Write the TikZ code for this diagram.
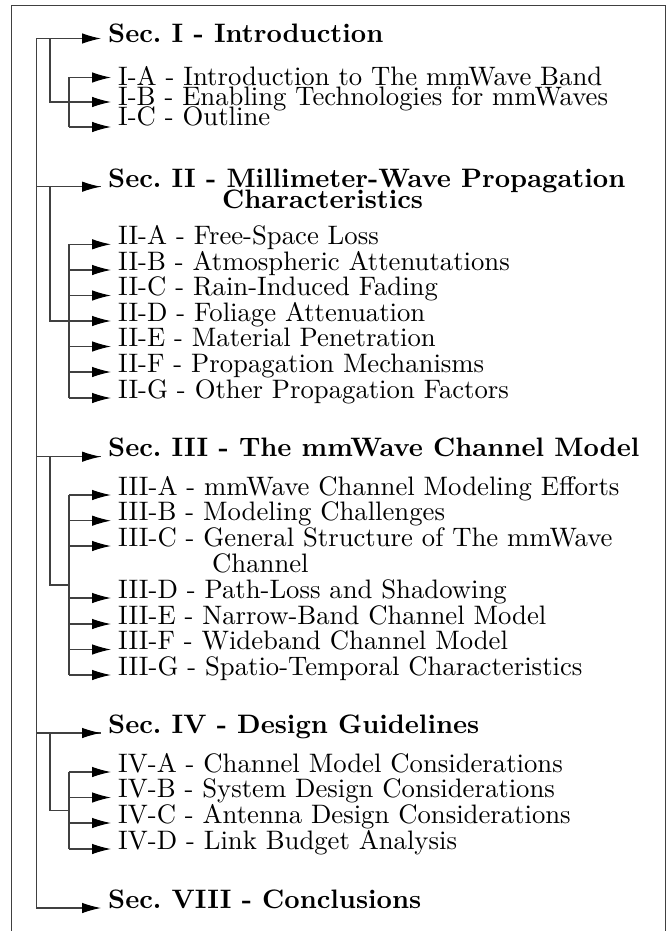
\documentclass[tikz,border=0pt]{standalone}
\usepackage{fontspec}
\setmainfont{lmroman10-regular.otf}[BoldFont=lmroman10-bold.otf,ItalicFont=lmroman10-italic.otf]
\usetikzlibrary{arrows.meta}
\begin{document}
\begin{tikzpicture}[x=1pt,y=-1pt,
  wire/.style={draw=black!75,line width=1.1pt},
  arr/.style={wire,-{Latex[length=19pt,width=10.5pt,black]}},
  sectxt/.style={anchor=base west,inner sep=0pt,font=\fontsize{26.7}{26.7}\selectfont\bfseries},
  subtxt/.style={anchor=base west,inner sep=0pt,font=\fontsize{26.7}{26.7}\selectfont}]
\useasboundingbox (0,0) rectangle (668,931);
\draw[black!75,line width=1pt] (11,6) rectangle (665,960);
% ---------- coordinates ----------
\coordinate (root) at (36.5,38.5);
% Sec I
\coordinate (S1) at (101,38.5);
\coordinate (b1) at (50,38.5);
\coordinate (m1) at (69,102);
\coordinate (v1) at (69,77.5);
\coordinate (w1) at (69,127);
\coordinate (IA) at (111,77.5);
\coordinate (IB) at (111,102);
\coordinate (IC) at (111,127);
\node[sectxt] (secI) at (108,43) {Sec.\ I - Introduction};
\node[subtxt] (tIA) at (118,86) {I-A - Introduction to The mmWave Band};
\node[subtxt] (tIB) at (118,106) {I-B - Enabling Technologies for mmWaves};
\node[subtxt] (tIC) at (118,126) {I-C - Outline};
\draw[arr] (root) -- (S1);
\draw[wire] (b1) |- (m1);
\draw[wire] (v1) -- (w1);
\draw[arr] (v1) -- (IA);
\draw[arr] (m1) -- (IB);
\draw[arr] (w1) -- (IC);
% Sec II
\coordinate (S2) at (101,186.7);
\coordinate (b2) at (50,186.7);
\coordinate (m2) at (69,321);
\coordinate (v2) at (69,244.3);
\coordinate (w2) at (69,398);
\coordinate (IIA) at (111,244.3);
\coordinate (IIB) at (111,270);
\coordinate (IIC) at (111,295.5);
\coordinate (IID) at (111,321);
\coordinate (IIE) at (111,346.5);
\coordinate (IIF) at (111,372);
\coordinate (IIG) at (111,398);
\node[sectxt] (secII) at (108,187) {Sec.\ II - Millimeter-Wave Propagation};
\node[sectxt] (secIIb) at (222,208) {Characteristics};
\node[subtxt] (tIIA) at (118,244.5) {II-A - Free-Space Loss};
\node[subtxt] (tIIB) at (118,270) {II-B - Atmospheric Attenutations};
\node[subtxt] (tIIC) at (118,295.5) {II-C - Rain-Induced Fading};
\node[subtxt] (tIID) at (118,321) {II-D - Foliage Attenuation};
\node[subtxt] (tIIE) at (118,346.5) {II-E - Material Penetration};
\node[subtxt] (tIIF) at (118,372) {II-F - Propagation Mechanisms};
\node[subtxt] (tIIG) at (118,398) {II-G - Other Propagation Factors};
\draw[wire] (root) |- (S2);
\draw[arr] (b2) -- (S2);
\draw[wire] (b2) |- (m2);
\draw[wire] (v2) -- (w2);
\foreach \t/\y in {IIA/244.3,IIB/270,IIC/295.5,IID/321,IIE/346.5,IIF/372,IIG/398}
  \draw[arr] (69,\y) -- (\t);
% Sec III
\coordinate (S3) at (101,456.7);
\coordinate (b3) at (50,456.7);
\coordinate (m3) at (69,585);
\coordinate (v3) at (69,495);
\coordinate (w3) at (69,675);
\coordinate (IIIA) at (111,495);
\coordinate (IIIB) at (111,520.7);
\coordinate (IIIC) at (111,546);
\coordinate (IIID) at (111,598);
\coordinate (IIIE) at (111,624);
\coordinate (IIIF) at (111,649.5);
\coordinate (IIIG) at (111,675);
\node[sectxt] (secIII) at (108,456.7) {Sec.\ III - The mmWave Channel Model};
\node[subtxt] (tIIIA) at (118,495) {III-A - mmWave Channel Modeling Efforts};
\node[subtxt] (tIIIB) at (118,520.7) {III-B - Modeling Challenges};
\node[subtxt] (tIIIC) at (118,546) {III-C - General Structure of The mmWave};
\node[subtxt] (tIIIC2) at (212,572) {Channel};
\node[subtxt] (tIIID) at (118,598) {III-D - Path-Loss and Shadowing};
\node[subtxt] (tIIIE) at (118,624) {III-E - Narrow-Band Channel Model};
\node[subtxt] (tIIIF) at (118,649.5) {III-F - Wideband Channel Model};
\node[subtxt] (tIIIG) at (118,675) {III-G - Spatio-Temporal Characteristics};
\draw[wire] (root) |- (S3);
\draw[arr] (b3) -- (S3);
\draw[wire] (b3) |- (m3);
\draw[wire] (v3) -- (w3);
\foreach \t/\y in {IIIA/495,IIIB/520.7,IIIC/546,IIID/598,IIIE/624,IIIF/649.5,IIIG/675}
  \draw[arr] (69,\y) -- (\t);
% Sec IV
\coordinate (S4) at (101,733);
\coordinate (b4) at (50,733);
\coordinate (m4) at (69,810.5);
\coordinate (v4) at (69,772);
\coordinate (w4) at (69,849);
\coordinate (IVA) at (111,772);
\coordinate (IVB) at (111,797.5);
\coordinate (IVC) at (111,823);
\coordinate (IVD) at (111,849);
\node[sectxt] (secIV) at (108,733) {Sec.\ IV - Design Guidelines};
\node[subtxt] (tIVA) at (118,772) {IV-A - Channel Model Considerations};
\node[subtxt] (tIVB) at (118,797.5) {IV-B - System Design Considerations};
\node[subtxt] (tIVC) at (118,823) {IV-C - Antenna Design Considerations};
\node[subtxt] (tIVD) at (118,849) {IV-D - Link Budget Analysis};
\draw[wire] (root) |- (S4);
\draw[arr] (b4) -- (S4);
\draw[wire] (b4) |- (m4);
\draw[wire] (v4) -- (w4);
\foreach \t/\y in {IVA/772,IVB/797.5,IVC/823,IVD/849}
  \draw[arr] (69,\y) -- (\t);
% Sec VIII
\coordinate (S8) at (101,908);
\node[sectxt] (secVIII) at (108,908) {Sec.\ VIII - Conclusions};
\draw[arr] (root) |- (S8);
\end{tikzpicture}
\end{document}
